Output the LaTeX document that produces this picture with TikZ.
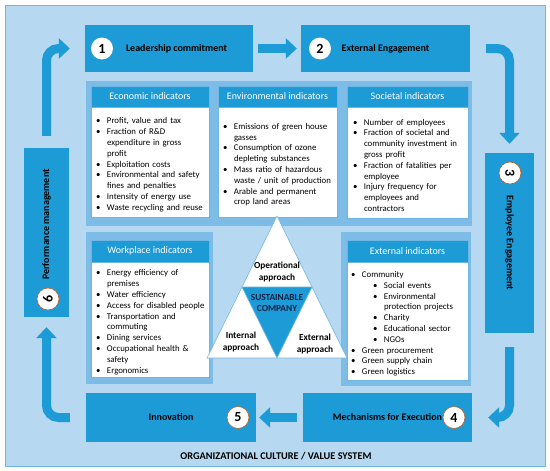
\documentclass[tikz,border=0pt]{standalone}
\usepackage{fontspec}
\setmainfont{Carlito}
\usetikzlibrary{positioning,arrows.meta,calc}

\definecolor{bgblue}{RGB}{182,216,240}
\definecolor{panelblue}{RGB}{125,188,230}
\definecolor{boxblue}{RGB}{28,155,215}
\definecolor{edgeblue}{RGB}{112,182,226}
\definecolor{navy}{RGB}{18,32,70}
\definecolor{ringbrown}{RGB}{190,95,40}

% bullet lines for the indicator cards
\newcommand\itm[1]{\par\noindent\hangindent=11pt\hangafter=1\hbox to 11pt{\textbullet\hfil}#1}
\newcommand\sitm[1]{\par\noindent\hangindent=33pt\hangafter=1\hbox to 33pt{\hspace{22pt}\textbullet\hfil}#1}

\begin{document}
\begin{tikzpicture}[
  x=1pt, y=-1pt,
  stage/.style={fill=boxblue, inner sep=0pt, font=\fontsize{10}{12}\selectfont\bfseries},
  stagetext/.style={inner sep=0pt, font=\fontsize{10}{12}\selectfont\bfseries},
  numdot/.style={circle, fill=white, draw=ringbrown, line width=0.6pt, minimum size=22pt,
                 inner sep=0pt, font=\fontsize{14}{14}\selectfont\bfseries},
  head/.style={fill=boxblue, draw=edgeblue, line width=0.4pt, text=white, inner sep=0pt,
               minimum height=21pt, font=\fontsize{10}{12}\selectfont},
  card/.style={fill=white, draw=edgeblue, line width=0.4pt, inner sep=0pt},
  items/.style={inner sep=0pt, align=left, anchor=west, font=\fontsize{8.8}{10.8}\selectfont},
  flow/.style={draw=boxblue, line width=9pt, rounded corners=12pt,
               -{Triangle[width=20pt,length=11pt]}},
  tri/.style={draw=edgeblue, line width=0.6pt, line join=round},
  trilabel/.style={align=center, inner sep=0pt, font=\fontsize{9.3}{11.5}\selectfont\bfseries}
]
\useasboundingbox (0,0) rectangle (550,471);

% ---- background: outer frame, then the darker panels ---------------
\filldraw[fill=bgblue, draw=edgeblue, line width=0.8pt] (5,5) rectangle (545,466);
\fill[panelblue] (86,81) rectangle (472,226);    % top band
\fill[panelblue] (86,232) rectangle (213,384);   % workplace panel
\fill[panelblue] (341,232) rectangle (471,386);  % external panel

% ---- stages ---------------------------------------------------------
\node[stage, minimum width=168pt, minimum height=47pt] (lead) at (169,48.5) {};
\node[stagetext, right=41pt of lead.west] (leadT) {Leadership commitment};
\node[stage, minimum width=169pt, minimum height=47pt] (ext) at (385.5,48.5) {External Engagement};
\node[stage, minimum width=49pt, minimum height=180pt] (emp) at (509.5,243) {};
\node[stagetext, rotate=-90] (empT) at (emp.center) {Employee Engagement};
\node[stage, minimum width=169pt, minimum height=49pt] (mech) at (387.5,417.5) {Mechanisms for Execution};
\node[stage, minimum width=170pt, minimum height=49pt] (innov) at (171,417.5) {Innovation};
\node[stage, minimum width=45pt, minimum height=169pt] (perf) at (46.5,232.5) {};
\node[stagetext, rotate=90] (perfT) at ([yshift=8pt]perf.center) {Performance management};

\node[numdot, draw=none] (n1) at (102,48.5) {1};
\node[numdot, draw=none] (n2) at (320,48.5) {2};
\node[numdot, rotate=-90] (n3) at (510,173) {3};
\node[numdot] (n4) at (454,417.5) {4};
\node[numdot] (n5) at (238,417.5) {5};
\node[numdot, rotate=90] (n6) at (48,299) {6};

% ---- cycle arrows ---------------------------------------------------
\draw[flow] ([xshift=5pt]lead.east) -- ([xshift=-4pt]ext.west);
\draw[flow] ([xshift=16pt]ext.east) -| ([yshift=9pt]emp.north);
\draw[flow] ([yshift=-14pt]emp.south) |- ([xshift=16pt]mech.east);
\draw[flow] ([xshift=-6pt]mech.west) -- ([xshift=3pt]innov.east);
\draw[flow] ([xshift=-16pt]innov.west) -| ([yshift=-10pt]perf.south);
\draw[flow] ([yshift=12pt]perf.north) |- ([xshift=-15pt]lead.west);

% ---- indicator cards ------------------------------------------------
\node[head, minimum width=118pt] (econH) at (150,96.5) {Economic indicators};
\node[card, minimum width=118pt, minimum height=110pt, below=0pt of econH] (econB) {};
\node[items, text width=112pt] (econL) at ([xshift=5pt]econB.west) {%
  \itm{Profit, value and tax}
  \itm{Fraction of R\&D\newline expenditure in gross\newline profit}
  \itm{Exploitation costs}
  \itm{Environmental and safety\newline fines and penalties}
  \itm{Intensity of energy use}
  \itm{Waste recycling and reuse}\par};

\node[head, minimum width=119pt] (envH) at (277.5,96.5) {Environmental indicators};
\node[card, minimum width=119pt, minimum height=110pt, below=0pt of envH] (envB) {};
\node[items, text width=113pt] (envL) at ([xshift=5pt]envB.west) {%
  \itm{Emissions of green house\newline gasses}
  \itm{Consumption of ozone\newline depleting substances}
  \itm{Mass ratio of hazardous\newline waste / unit of production}
  \itm{Arable and permanent\newline crop land areas}\par};

\node[head, minimum width=121pt] (socH) at (407.5,96.5) {Societal indicators};
\node[card, minimum width=121pt, minimum height=111pt, below=0pt of socH] (socB) {};
\node[items, text width=114pt] (socL) at ([xshift=6pt]socB.west) {%
  \itm{Number of employees}
  \itm{Fraction of societal and\newline community investment in\newline gross profit}
  \itm{Fraction of fatalities per\newline employee}
  \itm{Injury frequency for\newline employees and\newline contractors}\par};

\node[head, minimum width=118pt, minimum height=22pt] (workH) at (150,251) {Workplace indicators};
\node[card, minimum width=118pt, minimum height=115pt, below=0pt of workH] (workB) {};
\node[items, text width=112pt] (workL) at ([xshift=5pt]workB.west) {%
  \itm{Energy efficiency of\newline premises}
  \itm{Water efficiency}
  \itm{Access for disabled people}
  \itm{Transportation and\newline commuting}
  \itm{Dining services}
  \itm{Occupational health \&\newline safety}
  \itm{Ergonomics}\par};

\node[head, minimum width=121pt, minimum height=22pt] (extH) at (407.5,251) {External indicators};
\node[card, minimum width=121pt, minimum height=118pt, below=0pt of extH] (extB) {};
\node[items, text width=115pt] (extL) at ([xshift=4pt]extB.west) {%
  \itm{Community}
  \sitm{Social events}
  \sitm{Environmental\newline protection projects}
  \sitm{Charity}
  \sitm{Educational sector}
  \sitm{NGOs}
  \itm{Green procurement}
  \itm{Green supply chain}
  \itm{Green logistics}\par};

% ---- triangle of approaches -----------------------------------------
\coordinate (apex) at (277,216);
\coordinate (botL) at (207,358);
\coordinate (botR) at (347,358);
\coordinate (midL) at ($(apex)!0.5!(botL)$);
\coordinate (midR) at ($(apex)!0.5!(botR)$);
\coordinate (midB) at ($(botL)!0.5!(botR)$);
\filldraw[tri, fill=white] (apex) -- (botL) -- (botR) -- cycle;
\filldraw[tri, fill=boxblue] (midL) -- (midR) -- (midB) -- cycle;

\node[trilabel] (oper) at (277,272) {Operational\\approach};
\node[trilabel, text=navy] (core) at (277,303) {SUSTAINABLE\\COMPANY};
\node[trilabel] (inter) at (241,342) {Internal\\approach};
\node[trilabel] (exter) at (315,344) {External\\approach};

% ---- footer ---------------------------------------------------------
\node[font=\fontsize{10.3}{12}\selectfont\bfseries] (culture) at (276,456)
  {ORGANIZATIONAL CULTURE / VALUE SYSTEM};

\end{tikzpicture}
\end{document}
